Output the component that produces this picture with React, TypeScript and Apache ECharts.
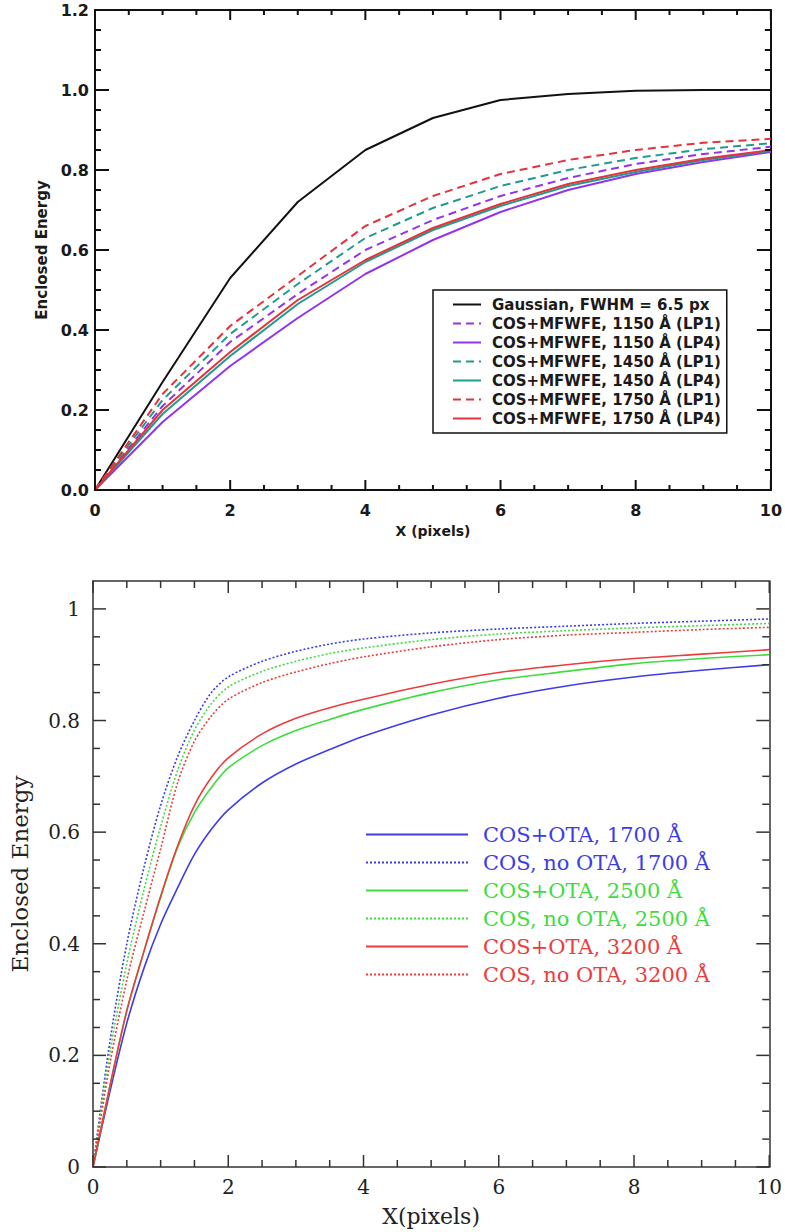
import React, { useEffect, useRef } from "react";
import * as echarts from "echarts";

// ---------- Top panel data ----------
const xTop = [0, 1, 2, 3, 4, 5, 6, 7, 8, 9, 10];
const gaussian = [0, 0.27, 0.53, 0.72, 0.85, 0.93, 0.975, 0.99, 0.998, 1.0, 1.0];
const mf1150LP1 = [0, 0.21, 0.37, 0.49, 0.6, 0.675, 0.735, 0.78, 0.815, 0.84, 0.858];
const mf1150LP4 = [0, 0.17, 0.31, 0.43, 0.54, 0.625, 0.695, 0.75, 0.79, 0.82, 0.845];
const mf1450LP1 = [0, 0.225, 0.39, 0.515, 0.63, 0.705, 0.76, 0.8, 0.83, 0.852, 0.867];
const mf1450LP4 = [0, 0.19, 0.335, 0.465, 0.57, 0.65, 0.71, 0.76, 0.795, 0.825, 0.848];
const mf1750LP1 = [0, 0.24, 0.41, 0.535, 0.66, 0.735, 0.79, 0.825, 0.85, 0.868, 0.878];
const mf1750LP4 = [0, 0.2, 0.345, 0.475, 0.575, 0.655, 0.715, 0.765, 0.8, 0.828, 0.85];
const topNames = [
  "Gaussian, FWHM = 6.5 px",
  "COS+MFWFE, 1150 Å (LP1)",
  "COS+MFWFE, 1150 Å (LP4)",
  "COS+MFWFE, 1450 Å (LP1)",
  "COS+MFWFE, 1450 Å (LP4)",
  "COS+MFWFE, 1750 Å (LP1)",
  "COS+MFWFE, 1750 Å (LP4)",
];

// ---------- Bottom panel data ----------
const xBot = [0, 0.25, 0.5, 0.75, 1, 1.25, 1.5, 1.75, 2, 2.5, 3, 3.5, 4, 5, 6, 7, 8, 9, 10];
const ota1700 = [0, 0.135, 0.258, 0.355, 0.435, 0.5, 0.56, 0.605, 0.64, 0.688, 0.722, 0.748, 0.772, 0.81, 0.84, 0.862, 0.878, 0.89, 0.9];
const noOta1700 = [0, 0.225, 0.4, 0.535, 0.648, 0.735, 0.8, 0.85, 0.878, 0.906, 0.924, 0.937, 0.946, 0.957, 0.964, 0.969, 0.974, 0.978, 0.982];
const ota2500 = [0, 0.145, 0.28, 0.385, 0.483, 0.572, 0.635, 0.68, 0.715, 0.755, 0.782, 0.802, 0.82, 0.85, 0.873, 0.888, 0.902, 0.911, 0.918];
const noOta2500 = [0, 0.205, 0.365, 0.495, 0.61, 0.71, 0.783, 0.83, 0.86, 0.888, 0.906, 0.92, 0.93, 0.945, 0.955, 0.961, 0.966, 0.97, 0.974];
const ota3200 = [0, 0.145, 0.28, 0.385, 0.485, 0.575, 0.648, 0.698, 0.733, 0.776, 0.804, 0.823, 0.838, 0.865, 0.886, 0.9, 0.911, 0.919, 0.927];
const noOta3200 = [0, 0.185, 0.335, 0.455, 0.57, 0.688, 0.763, 0.808, 0.838, 0.868, 0.887, 0.902, 0.914, 0.932, 0.945, 0.953, 0.958, 0.963, 0.967];
const botNames = [
  "COS+OTA, 1700 Å",
  "COS, no OTA, 1700 Å",
  "COS+OTA, 2500 Å",
  "COS, no OTA, 2500 Å",
  "COS+OTA, 3200 Å",
  "COS, no OTA, 3200 Å",
];

// ---------- Tick values (both panels) ----------
const xMajorTicks = [0, 2, 4, 6, 8, 10];
const xMinorTicks = [0.5, 1, 1.5, 2.5, 3, 3.5, 4.5, 5, 5.5, 6.5, 7, 7.5, 8.5, 9, 9.5];
const yTopMajorTicks = [0, 0.2, 0.4, 0.6, 0.8, 1.0, 1.2];
const yTopMinorTicks = [0.05, 0.1, 0.15, 0.25, 0.3, 0.35, 0.45, 0.5, 0.55, 0.65, 0.7, 0.75, 0.85, 0.9, 0.95, 1.05, 1.1, 1.15];
const yBotMajorTicks = [0, 0.2, 0.4, 0.6, 0.8, 1.0];
const yBotMinorTicks = [0.05, 0.1, 0.15, 0.25, 0.3, 0.35, 0.45, 0.5, 0.55, 0.65, 0.7, 0.75, 0.85, 0.9, 0.95];

const PURPLE = "#9135ec";
const TEAL = "#1f9c8c";
const RED_T = "#e5323c";
const BLUE = "#3d3de8";
const GREEN = "#3fdc3f";
const RED_B = "#ec3c3c";

const pairs = (xs: number[], ys: number[]) => xs.map((x, i) => [x, ys[i]]);

const sansT = () => ({ fontFamily: "DejaVu Sans", fontWeight: "bold", color: "#1a1a1a" });
const serifB = () => ({ fontFamily: "DejaVu Serif", color: "#222" });

// rows: [kind (0 = x, 1 = y), value, major (1/0)]
function tickRows(yMajor: number[], yMinor: number[]) {
  return [
    ...xMajorTicks.map((v) => [0, v, 1]),
    ...xMinorTicks.map((v) => [0, v, 0]),
    ...yMajor.map((v) => [1, v, 1]),
    ...yMinor.map((v) => [1, v, 0]),
  ];
}

function tickSeries(
  rows: number[][],
  yMax: number,
  lens: { xMaj: number; xMin: number; yMaj: number; yMin: number },
  stroke: string,
  lineWidth: number
): any {
  return {
    type: "custom",
    xAxisIndex: 0,
    yAxisIndex: 0,
    silent: true,
    clip: false,
    z: 4,
    data: rows,
    renderItem: (_params: any, api: any) => {
      const kind = api.value(0);
      const v = api.value(1);
      const major = api.value(2) === 1;
      const style = { stroke, lineWidth };
      if (kind === 0) {
        const b = api.coord([v, 0]);
        const t = api.coord([v, yMax]);
        const len = major ? lens.xMaj : lens.xMin;
        return {
          type: "group",
          children: [
            { type: "line", shape: { x1: b[0], y1: b[1], x2: b[0], y2: b[1] - len }, style },
            { type: "line", shape: { x1: t[0], y1: t[1], x2: t[0], y2: t[1] + len }, style },
          ],
        };
      }
      const l = api.coord([0, v]);
      const r = api.coord([10, v]);
      const len = major ? lens.yMaj : lens.yMin;
      return {
        type: "group",
        children: [
          { type: "line", shape: { x1: l[0], y1: l[1], x2: l[0] + len, y2: l[1] }, style },
          { type: "line", shape: { x1: r[0], y1: r[1], x2: r[0] - len, y2: r[1] }, style },
        ],
      };
    },
  };
}

function topOption(): any {
  const line = () => ({ show: true, onZero: false, lineStyle: { color: "#111", width: 2 } });
  const defs = [
    { name: topNames[0], ys: gaussian, color: "#111", dash: "solid" as any },
    { name: topNames[1], ys: mf1150LP1, color: PURPLE, dash: [8, 5] },
    { name: topNames[2], ys: mf1150LP4, color: PURPLE, dash: "solid" },
    { name: topNames[3], ys: mf1450LP1, color: TEAL, dash: [8, 5] },
    { name: topNames[4], ys: mf1450LP4, color: TEAL, dash: "solid" },
    { name: topNames[5], ys: mf1750LP1, color: RED_T, dash: [8, 5] },
    { name: topNames[6], ys: mf1750LP4, color: RED_T, dash: "solid" },
  ];
  return {
    animation: false,
    backgroundColor: "#fff",
    grid: [{ left: 95, top: 10, width: 679, height: 480 }],
    xAxis: [
      {
        gridIndex: 0, type: "value", min: 0, max: 10, interval: 2, position: "bottom",
        axisLine: line(), axisTick: { show: false }, minorTick: { show: false }, splitLine: { show: false },
        axisLabel: { ...sansT(), fontSize: 16, margin: 12 },
        name: "X (pixels)", nameLocation: "middle", nameGap: 34,
        nameTextStyle: { ...sansT(), fontSize: 14 },
      },
      {
        gridIndex: 0, type: "value", min: 0, max: 10, interval: 2, position: "top",
        axisLine: line(), axisTick: { show: false }, minorTick: { show: false }, splitLine: { show: false },
        axisLabel: { show: false },
      },
    ],
    yAxis: [
      {
        gridIndex: 0, type: "value", min: 0, max: 1.2, interval: 0.2, position: "left",
        axisLine: line(), axisTick: { show: false }, minorTick: { show: false }, splitLine: { show: false },
        axisLabel: { ...sansT(), fontSize: 16, margin: 6, formatter: (v: number) => v.toFixed(1) },
        name: "Enclosed Energy", nameLocation: "middle", nameGap: 42,
        nameTextStyle: { ...sansT(), fontSize: 15 },
      },
      {
        gridIndex: 0, type: "value", min: 0, max: 1.2, interval: 0.2, position: "right",
        axisLine: line(), axisTick: { show: false }, minorTick: { show: false }, splitLine: { show: false },
        axisLabel: { show: false },
      },
    ],
    legend: [
      {
        orient: "vertical", left: 433, top: 290, data: topNames,
        backgroundColor: "#fff", borderColor: "#111", borderWidth: 1.5, borderRadius: 0,
        padding: [6, 6, 6, 19], itemWidth: 28, itemHeight: 12, itemGap: 2,
        itemStyle: { opacity: 0 },
        textStyle: { ...sansT(), fontSize: 15, lineHeight: 17, padding: [0, 0, 0, 6] },
      },
    ],
    series: [
      ...defs.map((s) => ({
        type: "line", name: s.name, xAxisIndex: 0, yAxisIndex: 0,
        data: pairs(xTop, s.ys), symbol: "none", color: s.color,
        lineStyle: { color: s.color, width: 2, type: s.dash },
      })),
      tickSeries(tickRows(yTopMajorTicks, yTopMinorTicks), 1.2, { xMaj: 10, xMin: 5, yMaj: 14, yMin: 6 }, "#111", 2),
    ],
  };
}

function bottomOption(): any {
  const line = () => ({ show: true, onZero: false, lineStyle: { color: "#333", width: 1.5 } });
  const defs = [
    { name: botNames[0], ys: ota1700, color: BLUE, dash: "solid" as any },
    { name: botNames[1], ys: noOta1700, color: BLUE, dash: [2, 2] },
    { name: botNames[2], ys: ota2500, color: GREEN, dash: "solid" },
    { name: botNames[3], ys: noOta2500, color: GREEN, dash: [2, 2] },
    { name: botNames[4], ys: ota3200, color: RED_B, dash: "solid" },
    { name: botNames[5], ys: noOta3200, color: RED_B, dash: [2, 2] },
  ];
  return {
    animation: false,
    backgroundColor: "#fff",
    grid: [{ left: 93, top: 31, width: 680, height: 586 }],
    xAxis: [
      {
        gridIndex: 0, type: "value", min: 0, max: 10, interval: 2, position: "bottom",
        axisLine: line(), axisTick: { show: false }, minorTick: { show: false }, splitLine: { show: false },
        axisLabel: { ...serifB(), fontSize: 20, margin: 10 },
        name: "X(pixels)", nameLocation: "middle", nameGap: 38,
        nameTextStyle: { ...serifB(), fontSize: 22 },
      },
      {
        gridIndex: 0, type: "value", min: 0, max: 10, interval: 2, position: "top",
        axisLine: line(), axisTick: { show: false }, minorTick: { show: false }, splitLine: { show: false },
        axisLabel: { show: false },
      },
    ],
    yAxis: [
      {
        gridIndex: 0, type: "value", min: 0, max: 1.05, interval: 0.2, position: "left",
        axisLine: line(), axisTick: { show: false }, minorTick: { show: false }, splitLine: { show: false },
        axisLabel: { ...serifB(), fontSize: 20, margin: 13, showMaxLabel: false, formatter: (v: number) => String(+v.toFixed(2)) },
        name: "Enclosed Energy", nameLocation: "middle", nameGap: 62,
        nameTextStyle: { ...serifB(), fontSize: 23 },
      },
      {
        gridIndex: 0, type: "value", min: 0, max: 1.05, interval: 0.2, position: "right",
        axisLine: line(), axisTick: { show: false }, minorTick: { show: false }, splitLine: { show: false },
        axisLabel: { show: false },
      },
    ],
    legend: [
      {
        orient: "vertical", left: 365, top: 274,
        data: defs.map((d) => ({ name: d.name, textStyle: { color: d.color } })),
        padding: 0, itemWidth: 102, itemHeight: 14, itemGap: 7,
        itemStyle: { opacity: 0 },
        textStyle: { fontFamily: "DejaVu Serif", fontSize: 21, padding: [0, 0, 0, 10] },
      },
    ],
    series: [
      ...defs.map((s) => ({
        type: "line", name: s.name, xAxisIndex: 0, yAxisIndex: 0,
        data: pairs(xBot, s.ys), symbol: "none", smooth: 0.3, color: s.color,
        lineStyle: { color: s.color, width: 1.6, type: s.dash },
      })),
      tickSeries(tickRows(yBotMajorTicks, yBotMinorTicks), 1.05, { xMaj: 12, xMin: 7, yMaj: 13, yMin: 7 }, "#333", 1.5),
    ],
  };
}

function Panel({ top, height, build }: { top: number; height: number; build: () => any }) {
  const ref = useRef<HTMLDivElement>(null);
  useEffect(() => {
    if (!ref.current) return;
    const chart = echarts.init(ref.current, undefined, { renderer: "svg" });
    chart.setOption(build());
    return () => chart.dispose();
  }, []);
  return <div ref={ref} style={{ position: "absolute", left: 0, top, width: 785, height }} />;
}

export default function App() {
  return (
    <div style={{ position: "absolute", left: 0, top: 0, width: 785, height: 1232, background: "#fff" }}>
      <Panel top={0} height={550} build={topOption} />
      <Panel top={550} height={682} build={bottomOption} />
    </div>
  );
}
